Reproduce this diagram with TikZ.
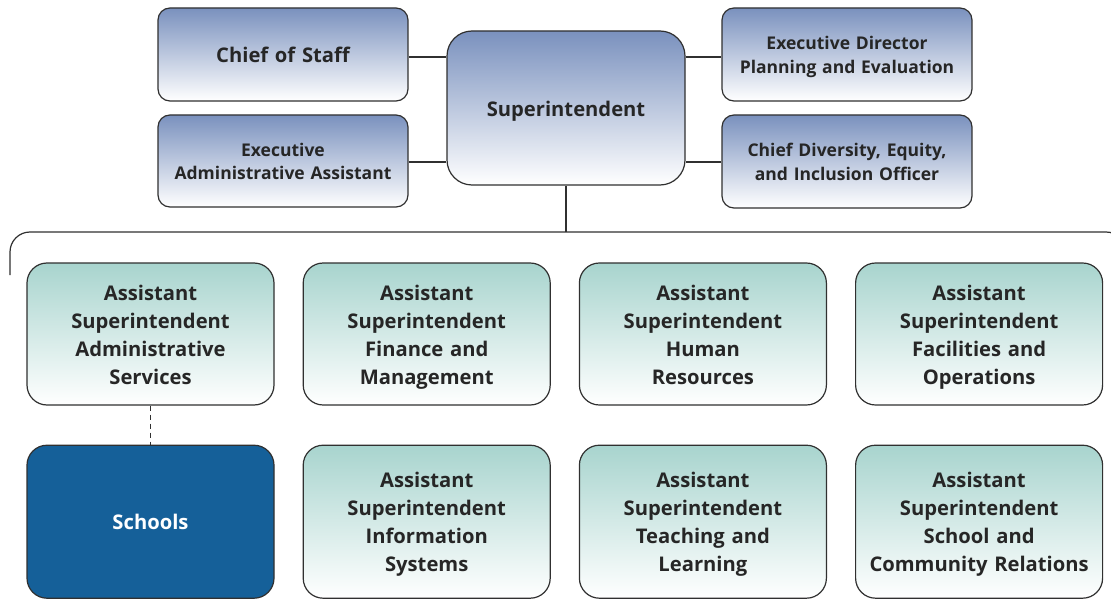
\documentclass[tikz,border=0pt]{standalone}
\usepackage{fontspec}
\setmainfont{Open Sans}
\usetikzlibrary{positioning}
\definecolor{topblue}{HTML}{7A91BE}
\definecolor{topteal}{HTML}{A8D4CE}
\definecolor{schoolblue}{HTML}{156099}
\definecolor{edgegray}{HTML}{303030}
\definecolor{textgray}{HTML}{262626}
\newcommand{\topstrut}{\rule{0pt}{\dimexpr0.7\baselineskip+5pt\relax}}
\tikzset{
	office/.style={draw=edgegray, line width=1.2pt, rounded corners=12pt, top color=topblue, bottom color=white,
		align=center, text width=236pt, text=textgray, font=\bfseries\fontsize{17.5}{23.5}\selectfont,
		execute at begin node=\topstrut, execute at end node=\strut,
		minimum width=250pt, minimum height=93pt, inner sep=0pt},
	asst/.style={draw=edgegray, line width=1.2pt, rounded corners=20pt, top color=topteal, middle color=topteal!92!white, bottom color=white,
		align=center, text width=236pt, text=textgray, font=\bfseries\fontsize{20.2}{28}\selectfont,
		execute at begin node=\topstrut, execute at end node=\strut,
		minimum width=247pt, minimum height=142pt, inner sep=0pt},
	link/.style={draw=edgegray, line width=1.2pt}
}
\begin{document}
\begin{tikzpicture}[x=1pt,y=-1pt]
								\useasboundingbox (0,0) rectangle (1111,599);
								\clip (0,0) rectangle (1111,599);

								% top offices
								\node[office, rounded corners=25pt, minimum width=238pt, text width=226pt, minimum height=154pt, font=\bfseries\fontsize{20.2}{28}\selectfont] (supt) at (566,108) {Superintendent};
								\node[office, font=\bfseries\fontsize{20.2}{28}\selectfont] (cos) at (283,54.5) {Chief of Staff};
								\node[office, minimum height=92pt] (eaa) at (283,161) {Executive\\Administrative Assistant};
								\node[office] (edpe) at (847,54.5) {Executive Director\\Planning and Evaluation};
								\node[office] (cdei) at (847,161.5) {Chief Diversity, Equity,\\and Inclusion Officer};

								\draw[link] (cos.east |- 0,57) -- (supt.west |- 0,57);
								\draw[link] (eaa.east |- 0,162) -- (supt.west |- 0,162);
								\draw[link] (supt.east |- 0,57) -- (edpe.west |- 0,57);
								\draw[link] (supt.east |- 0,162) -- (cdei.west |- 0,162);

								% bracket to the assistants
								\coordinate (barL) at (10,275);
								\coordinate (barR) at (1126,275);
								\draw[link] (supt.south) -- (supt.south |- 0,232);
								\draw[link, rounded corners=20pt] (barL) |- (1126,232) -- (barR);

								% assistant superintendents
								\node[asst] (admin) at (150.5,334) {Assistant\\Superintendent\\Administrative\\Services};
								\node[asst, right=28pt of admin] (fin) {Assistant\\Superintendent\\Finance and\\Management};
								\node[asst, right=28pt of fin] (hr) {Assistant\\Superintendent\\Human\\Resources};
								\node[asst, right=28pt of hr] (fac) {Assistant\\Superintendent\\Facilities and\\Operations};

								\node[asst, minimum height=153pt, below=39pt of admin, top color=schoolblue, middle color=schoolblue, bottom color=schoolblue, text=white] (sch) {Schools};
								\node[asst, minimum height=153pt, below=39pt of fin] (is) {Assistant\\Superintendent\\Information\\Systems};
								\node[asst, minimum height=153pt, below=39pt of hr] (tl) {Assistant\\Superintendent\\Teaching and\\Learning};
								\node[asst, minimum height=153pt, below=39pt of fac] (scr) {Assistant\\Superintendent\\School and\\Community Relations};

								\draw[link, line width=1pt, dash pattern=on 5pt off 4pt] (admin.south) -- (sch.north);
							\end{tikzpicture}
\end{document}
